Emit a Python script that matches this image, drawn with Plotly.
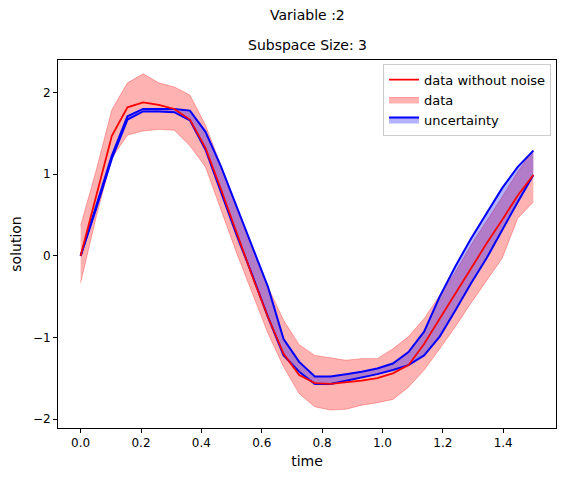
import numpy as np
import plotly.graph_objects as go

# time grid (30 samples 0..1.5) and values
time = np.linspace(0, 1.5, 30)
clean = [0, 0.75, 1.47, 1.82, 1.88, 1.85, 1.80, 1.67, 1.32, 0.81,
         0.28, -0.25, -0.75, -1.20, -1.46, -1.56, -1.57, -1.55, -1.53, -1.50,
         -1.44, -1.34, -1.08, -0.77, -0.46, -0.15, 0.15, 0.44, 0.74, 0.99]
data_hi = [0.37, 1.05, 1.79, 2.12, 2.23, 2.12, 2.07, 1.97, 1.60, 1.09,
           0.60, 0.11, -0.38, -0.79, -1.09, -1.22, -1.25, -1.28, -1.26, -1.26,
           -1.14, -0.99, -0.77, -0.48, -0.20, 0.13, 0.42, 0.72, 1.03, 1.30]
data_lo = [-0.33, 0.48, 1.20, 1.48, 1.53, 1.55, 1.54, 1.35, 1.09, 0.56,
           0.03, -0.46, -0.95, -1.36, -1.69, -1.85, -1.89, -1.88, -1.83, -1.80,
           -1.76, -1.61, -1.40, -1.14, -0.87, -0.58, -0.30, -0.03, 0.46, 0.66]
unc_hi = [0, 0.62, 1.23, 1.71, 1.80, 1.80, 1.80, 1.78, 1.52, 1.09,
          0.60, 0.11, -0.38, -1.02, -1.30, -1.48, -1.48, -1.45, -1.42, -1.38,
          -1.32, -1.18, -0.93, -0.50, -0.13, 0.21, 0.52, 0.83, 1.09, 1.29]
unc_lo = [0, 0.58, 1.19, 1.67, 1.77, 1.77, 1.76, 1.66, 1.30, 0.77,
          0.25, -0.24, -0.75, -1.22, -1.42, -1.57, -1.57, -1.53, -1.49, -1.45,
          -1.40, -1.34, -1.22, -0.99, -0.67, -0.34, -0.03, 0.32, 0.66, 0.99]

fig = go.Figure()
fig.add_trace(go.Scatter(x=time, y=data_lo, mode="lines", line=dict(color="rgba(255,0,0,0.3)", width=1),
                         showlegend=False, hoverinfo="skip"))
fig.add_trace(go.Scatter(x=time, y=data_hi, mode="lines", line=dict(color="rgba(255,0,0,0.3)", width=1),
                         fill="tonexty", fillcolor="rgba(255,0,0,0.3)", name="data", legendrank=2))
fig.add_trace(go.Scatter(x=time, y=unc_lo, mode="lines", line=dict(color="blue", width=2),
                         showlegend=False, hoverinfo="skip"))
fig.add_trace(go.Scatter(x=time, y=unc_hi, mode="lines", line=dict(color="blue", width=2),
                         fill="tonexty", fillcolor="rgba(0,0,255,0.3)", name="uncertainty", legendrank=3))
fig.add_trace(go.Scatter(x=time, y=clean, mode="lines", line=dict(color="red", width=1.8),
                         name="data without noise", legendrank=1))

# page body has an 8px default margin, so the margins are shifted to compensate
axis = dict(showline=True, linecolor="black", linewidth=1, mirror=True, ticks="outside",
            ticklen=4, tickcolor="black", showgrid=False, zeroline=False, automargin=False)
fig.update_layout(
    width=569, height=480, plot_bgcolor="white", paper_bgcolor="white",
    font=dict(family="DejaVu Sans", size=12, color="black"),
    margin=dict(l=50, r=21, t=52, b=60),
    xaxis=dict(axis, range=[-0.075, 1.575], tickvals=[0, 0.2, 0.4, 0.6, 0.8, 1.0, 1.2, 1.4],
               tickformat=".1f", title=dict(text="time", standoff=6)),
    yaxis=dict(axis, range=[-2.11, 2.40], tickvals=[-2, -1, 0, 1, 2],
               title=dict(text="solution", standoff=8)),
    legend=dict(x=0.99, y=0.99, xanchor="right", yanchor="top", bordercolor="#cccccc",
                borderwidth=1, bgcolor="rgba(255,255,255,0.8)", font=dict(size=13),
                traceorder="normal"),
    annotations=[
        dict(text="Variable :2", x=0.5, y=1.0 + (60 - 15) / 368, xref="paper", yref="paper",
             yanchor="middle", showarrow=False, font=dict(size=14)),
        dict(text="Subspace Size: 3", x=0.5, y=1.0 + (60 - 45) / 368, xref="paper", yref="paper",
             yanchor="middle", showarrow=False, font=dict(size=14)),
    ],
)
fig.write_html("out.html")
